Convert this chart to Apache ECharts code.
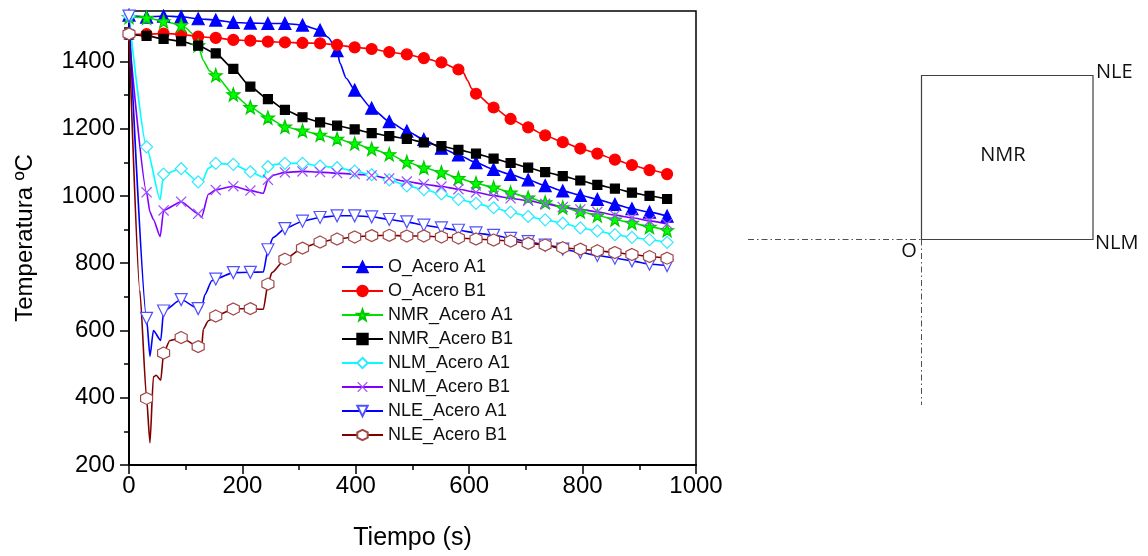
<!DOCTYPE html>
<html>
<head>
<meta charset="utf-8">
<script src="https://cdn.jsdelivr.net/npm/echarts@6/dist/echarts.min.js"></script>
<style>
html,body{margin:0;padding:0;background:#fff;}
#chart{width:1148px;height:556px;}
</style>
</head>
<body>
<div id="chart"></div>
<script>
// ---- DATA ----
// times (s) at which markers are drawn
const markerTimes = [0,31,61,92,122,153,184,214,245,275,306,337,367,398,428,459,490,520,551,581,612,643,673,704,734,765,796,826,857,887,918,949];

const oA1 = [1538,1532,1535,1533,1527,1523,1516,1514,1513,1513,1508,1493,1432,1315,1261,1221,1193,1168,1142,1122,1099,1079,1064,1048,1031,1015,1002,990,975,962,952,940];
const oA1Extra = [[351,1472],[372,1395],[383,1350]];

const oB1 = [1481,1481,1483,1481,1474,1470,1464,1462,1459,1457,1455,1454,1449,1442,1437,1428,1421,1410,1397,1376,1304,1263,1229,1204,1180,1160,1141,1126,1108,1092,1077,1065];
const oB1Extra = [[590,1366],[597,1344],[604,1320]];

const nmrA1 = [1532,1530,1519,1508,1448,1359,1302,1264,1233,1206,1194,1182,1170,1156,1140,1124,1101,1084,1070,1053,1038,1025,1010,995,981,966,954,942,930,920,908,898];
const nmrA1Extra = [[100,1500],[110,1485],[131,1403],[142,1372]];

const nmrB1 = [1480,1476,1467,1460,1447,1424,1378,1325,1288,1256,1234,1219,1209,1198,1187,1178,1170,1159,1148,1137,1126,1111,1098,1084,1071,1059,1046,1033,1022,1010,1000,991];
const nmrB1Extra = [];

const nlmA1 = [1535,1146,1065,1081,1042,1097,1094,1072,1087,1097,1097,1089,1084,1074,1063,1048,1030,1019,1006,990,978,965,952,939,929,919,905,896,885,877,870,862];
const nlmA1Extra = [[55,989],[128,1040],[140,1082],[237,1056],[258,1094]];

const nlmB1 = [1480,1011,957,983,947,1018,1029,1016,1048,1070,1073,1071,1068,1065,1061,1052,1043,1035,1028,1020,1011,1001,993,986,977,967,960,953,943,935,926,917];
const nlmB1Extra = [[37,952],[43,930],[55,879],[128,937],[140,1005],[237,1008],[255,1062]];

const nleA1 = [1535,636,658,692,665,753,772,773,840,903,925,936,941,941,938,930,923,913,905,898,890,883,874,864,854,842,832,823,815,807,797,793];
const nleA1Extra = [[37,523],[43,600],[56,570],[128,668],[134,707],[146,748],[237,774],[254,876]];

const nleB1 = [1482,398,533,579,552,643,664,665,738,812,845,863,872,878,882,883,881,881,878,875,872,869,866,859,854,846,842,837,832,826,820,815];
const nleB1Extra = [[19,720],[37,266],[43,462],[48,467],[56,452],[72,570],[128,545],[131,604],[140,629],[237,663],[252,772]];

const seriesNames = ['O_Acero A1','O_Acero B1','NMR_Acero A1','NMR_Acero B1','NLM_Acero A1','NLM_Acero B1','NLE_Acero A1','NLE_Acero B1'];

const yLabelValues = [200,400,600,800,1000,1200,1400];
const yMinorValues = [300,500,700,900,1100,1300,1500];

// ---- BUILD ----
function build(vals, extra){
  const pts = markerTimes.map((t,i)=>({value:[t, vals[i]]}));
  extra.forEach(p=>pts.push({value:[p[0],p[1]], symbol:'none'}));
  pts.sort((a,b)=>a.value[0]-b.value[0]);
  return pts;
}

const STAR = 'path://M0,-10 L2.35,-3.24 L9.51,-3.09 L3.8,1.24 L5.88,8.09 L0,4 L-5.88,8.09 L-3.8,1.24 L-9.51,-3.09 L-2.35,-3.24 Z';
const XMARK = 'path://M-5,-4.2 L-4.2,-5 L0,-0.8 L4.2,-5 L5,-4.2 L0.8,0 L5,4.2 L4.2,5 L0,0.8 L-4.2,5 L-5,4.2 L-0.8,0 Z';
const HEX = 'path://M0,-10 L8.66,-5 L8.66,5 L0,10 L-8.66,5 L-8.66,-5 Z';
const DTRI = 'path://M-6,-5 L6,-5 L0,6 Z';

function mk(name, vals, extra, lineColor, symbol, size, fill, border){
  return {
    type:'line', name:name, data:build(vals, extra),
    smooth:0.2, smoothMonotone:'x',
    symbol:symbol, symbolSize:size, showAllSymbol:true,
    lineStyle:{color:lineColor, width:1.6},
    itemStyle:{color:fill, borderColor:border, borderWidth:1.2},
    emphasis:{disabled:true},
    animation:false
  };
}

const series = [
  mk(seriesNames[0], oA1, oA1Extra, '#0000FF', 'triangle', 12, '#0000FF', '#0000FF'),
  mk(seriesNames[1], oB1, oB1Extra, '#FF0000', 'circle', 11, '#FF0000', '#FF0000'),
  mk(seriesNames[2], nmrA1, nmrA1Extra, '#00E000', STAR, 13, '#00FF00', '#00C800'),
  mk(seriesNames[3], nmrB1, nmrB1Extra, '#000000', 'rect', 9, '#000000', '#000000'),
  mk(seriesNames[4], nlmA1, nlmA1Extra, '#00FFFF', 'diamond', 12, '#FFFFFF', '#30E8FF'),
  mk(seriesNames[5], nlmB1, nlmB1Extra, '#8000FF', XMARK, 11, '#A050FF', '#A050FF'),
  mk(seriesNames[6], nleA1, nleA1Extra, '#0000FF', DTRI, 12, '#FFFFFF', '#5050FF'),
  mk(seriesNames[7], nleB1, nleB1Extra, '#800000', HEX, 12, '#FFFFFF', '#A04848')
];
series[5].itemStyle.borderWidth = 0;

const fontAx = 'Liberation Sans';
const plain = v => String(v);
const chart = echarts.init(document.getElementById('chart'));
chart.setOption({
  animation:false,
  backgroundColor:'#ffffff',
  grid:{left:129, right:452, top:11, bottom:88, show:true, borderColor:'#000', borderWidth:1.5, backgroundColor:'transparent'},
  legend:{
    orient:'vertical', left:336, top:253, itemWidth:41, itemHeight:13, itemGap:6,
    selectedMode:false, data:seriesNames,
    textStyle:{fontSize:18, fontFamily:fontAx, color:'#111'}
  },
  xAxis:{
    type:'value', min:0, max:1000, interval:200,
    axisLine:{show:true, lineStyle:{color:'#000', width:2}},
    axisTick:{show:true, inside:false, length:9, lineStyle:{color:'#000', width:1.5}},
    minorTick:{show:true, splitNumber:2, length:5, lineStyle:{color:'#000', width:1.5}},
    axisLabel:{fontSize:24, fontFamily:fontAx, color:'#000', margin:9, formatter:plain},
    splitLine:{show:false}, minorSplitLine:{show:false},
    name:'Tiempo (s)', nameLocation:'middle', nameGap:61,
    nameTextStyle:{fontSize:25, fontFamily:fontAx, color:'#000'}
  },
  yAxis:[{
    type:'value', min:200, max:1550, interval:200, position:'left',
    axisLine:{show:true, lineStyle:{color:'#000', width:2}},
    axisTick:{show:true, inside:false, length:9, lineStyle:{color:'#000', width:1.5}, customValues:yLabelValues},
    axisLabel:{fontSize:24, fontFamily:fontAx, color:'#000', margin:14, customValues:yLabelValues, formatter:plain},
    splitLine:{show:false},
    name:'Temperatura ºC', nameLocation:'middle', nameGap:92,
    nameTextStyle:{fontSize:24, fontFamily:fontAx, color:'#000'}
  },{
    type:'value', min:200, max:1550, interval:100, position:'left', offset:0,
    axisLine:{show:false},
    axisTick:{show:true, inside:false, length:5, lineStyle:{color:'#000', width:1.5}, customValues:yMinorValues},
    axisLabel:{show:false}, splitLine:{show:false}
  }],
  series:series,
  graphic:[
    {type:'rect', shape:{x:921.5, y:75.5, width:171.5, height:164}, style:{fill:'none', stroke:'#404040', lineWidth:1.2}},
    {type:'line', shape:{x1:748, y1:239.5, x2:921.5, y2:239.5}, style:{stroke:'#505050', lineWidth:1, lineDash:[6,3,1.5,3]}},
    {type:'line', shape:{x1:921.5, y1:239.5, x2:921.5, y2:405}, style:{stroke:'#505050', lineWidth:1, lineDash:[6,3,1.5,3]}},
    {type:'text', x:1096, y:72, style:{text:'NLE', fontSize:20, fontFamily:'Open Sans', fill:'#111', align:'left', verticalAlign:'middle'}},
    {type:'text', x:1095, y:243, style:{text:'NLM', fontSize:20, fontFamily:'Open Sans', fill:'#111', align:'left', verticalAlign:'middle'}},
    {type:'text', x:909, y:251, style:{text:'O', fontSize:20, fontFamily:'Open Sans', fill:'#111', align:'center', verticalAlign:'middle'}},
    {type:'text', x:1003, y:155, style:{text:'NMR', fontSize:20, fontFamily:'Open Sans', fill:'#111', align:'center', verticalAlign:'middle'}}
  ]
});
</script>
</body>
</html>
